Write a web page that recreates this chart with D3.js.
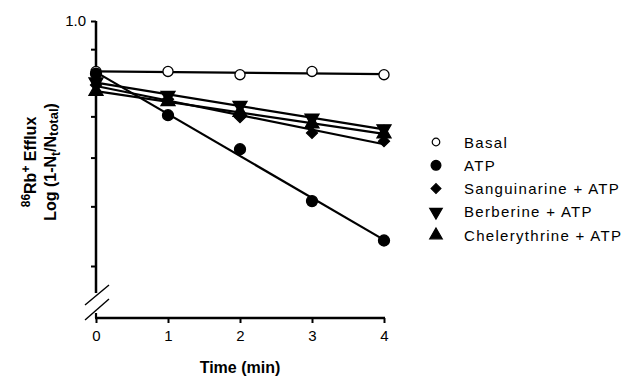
<!DOCTYPE html>
<html lang="en">
<head>
<meta charset="UTF-8">
<title>86Rb efflux</title>
<script src="https://d3js.org/d3.v7.min.js"></script>
<style>
    body { margin: 0; background: #fff; }
    svg { font-family: Arial, "Liberation Sans", sans-serif; }
</style>
</head>
<body>
<div id="chart"></div>
<script>
    const times = [0, 1, 2, 3, 4];
    const seriesNames = ["Basal", "ATP", "Sanguinarine + ATP", "Berberine + ATP", "Chelerythrine + ATP"];
    const basal = [0.828, 0.828, 0.818, 0.828, 0.818];
    const atp = [0.821, 0.703, 0.619, 0.510, 0.440];
    const sanguinarine = [0.787, 0.746, 0.698, 0.658, 0.638];
    const berberine = [0.796, 0.757, 0.729, 0.695, 0.668];
    const chelerythrine = [0.769, 0.740, 0.711, 0.681, 0.656];
    const yTicks = [1.0, 0.9, 0.8, 0.7, 0.6, 0.5, 0.4];

    const width = 630, height = 376;
    const svg = d3.select("#chart").append("svg")
        .attr("width", width)
        .attr("height", height);

    const x = d3.scaleLinear().domain([0, 4]).range([96, 384]);
    const y = d3.scaleLog().domain([0.4, 1.0]).range([266, 21]);
    const xAxisY = 318;
    const yAxisBottom = 293;

    // symbols (diamond = square turned 45deg)
    const shapes = [
        { type: d3.symbolCircle, size: 80, fill: "#fff", rot: 0 },
        { type: d3.symbolCircle, size: 95, fill: "#000", rot: 0 },
        { type: d3.symbolSquare, size: 60, fill: "#000", rot: 45 },
        { type: d3.symbolTriangle, size: 85, fill: "#000", rot: 180 },
        { type: d3.symbolTriangle, size: 85, fill: "#000", rot: 0 }
    ];
    const allSeries = [basal, atp, sanguinarine, berberine, chelerythrine];

    // y axis
    const yAxis = svg.append("g")
        .attr("transform", `translate(${x(0)},0)`)
        .call(d3.axisLeft(y).tickValues(yTicks).tickSize(5)
            .tickFormat(d => d === 1 ? "1.0" : ""));
    yAxis.select(".domain").remove();
    yAxis.selectAll(".tick line").attr("stroke", "#000").attr("stroke-width", 2);
    yAxis.selectAll(".tick text").attr("font-size", 15).attr("x", -10).attr("fill", "#000");
    yAxis.append("line")
        .attr("x1", 0).attr("x2", 0)
        .attr("y1", y(1.0)).attr("y2", yAxisBottom)
        .attr("stroke", "#000").attr("stroke-width", 2.5);

    // axis break marks
    const brk = svg.append("g").attr("stroke", "#000").attr("stroke-width", 1.4);
    brk.append("line").attr("x1", x(0) - 11).attr("y1", yAxisBottom + 12)
        .attr("x2", x(0) + 13).attr("y2", yAxisBottom - 8);
    brk.append("line").attr("x1", x(0) - 11).attr("y1", yAxisBottom + 27)
        .attr("x2", x(0) + 13).attr("y2", yAxisBottom + 6);

    // x axis
    const xAxis = svg.append("g")
        .attr("transform", `translate(0,${xAxisY})`)
        .call(d3.axisBottom(x).tickValues(times).tickSize(5).tickFormat(d3.format("d")));
    xAxis.select(".domain").remove();
    xAxis.selectAll(".tick line").attr("stroke", "#000").attr("stroke-width", 2);
    xAxis.selectAll(".tick text").attr("font-size", 15).attr("y", 12).attr("fill", "#000");
    xAxis.append("line")
        .attr("x1", x(0) - 1).attr("x2", x(4) + 1)
        .attr("y1", 0).attr("y2", 0)
        .attr("stroke", "#000").attr("stroke-width", 2.5);
    xAxis.append("line")
        .attr("x1", x(0)).attr("x2", x(0))
        .attr("y1", -5).attr("y2", 0)
        .attr("stroke", "#000").attr("stroke-width", 2.2);

    // axis titles
    svg.append("text")
        .attr("x", 240).attr("y", 373)
        .attr("text-anchor", "middle")
        .attr("font-size", 16).attr("font-weight", "bold")
        .text("Time (min)");

    const yt = svg.append("g").attr("transform", "translate(36,162) rotate(-90)")
        .attr("font-weight", "bold").attr("font-size", 16).attr("text-anchor", "middle");
    const l1 = yt.append("text").attr("x", 0).attr("y", 0);
    l1.append("tspan").attr("font-size", 12).attr("dy", -6).text("86");
    l1.append("tspan").attr("dy", 6).text("Rb");
    l1.append("tspan").attr("font-size", 12).attr("dy", -6).text("+");
    l1.append("tspan").attr("dy", 6).text(" Efflux");
    const l2 = yt.append("text").attr("x", 0).attr("y", 20);
    l2.append("tspan").text("Log (1-N");
    l2.append("tspan").attr("font-size", 12).attr("dy", 4).text("t");
    l2.append("tspan").attr("dy", -4).text("/N");
    l2.append("tspan").attr("font-size", 13).attr("dy", 2).text("total");
    l2.append("tspan").attr("dy", -2).text(")");

    // least squares fit in log space
    function fit(vals) {
        const ly = vals.map(v => Math.log10(v));
        const mx = d3.mean(times), my = d3.mean(ly);
        let num = 0, den = 0;
        times.forEach((t, i) => { num += (t - mx) * (ly[i] - my); den += (t - mx) * (t - mx); });
        const b = num / den, a = my - b * mx;
        return t => Math.pow(10, a + b * t);
    }

    const lineG = svg.append("g");
    allSeries.forEach(vals => {
        const f = fit(vals);
        lineG.append("line")
            .attr("x1", x(0)).attr("y1", y(f(0)))
            .attr("x2", x(4)).attr("y2", y(f(4)))
            .attr("stroke", "#000").attr("stroke-width", 2.2);
    });

    const markG = svg.append("g");
    allSeries.forEach((vals, si) => {
        const s = shapes[si];
        markG.selectAll(null)
            .data(vals)
            .enter().append("path")
            .attr("d", d3.symbol().type(s.type).size(s.size))
            .attr("transform", (d, i) => `translate(${x(times[i])},${y(d)}) rotate(${s.rot})`)
            .attr("fill", s.fill)
            .attr("stroke", "#000")
            .attr("stroke-width", 1.3);
    });

    // legend
    const legend = svg.append("g").attr("transform", "translate(436,142)");
    seriesNames.forEach((name, i) => {
        const s = shapes[i];
        const g = legend.append("g").attr("transform", `translate(0,${i * 23.3})`);
        g.append("path")
            .attr("d", d3.symbol().type(s.type).size(i === 0 ? 45 : s.size * 0.8))
            .attr("transform", `rotate(${s.rot})`)
            .attr("fill", s.fill)
            .attr("stroke", "#000")
            .attr("stroke-width", 1.2);
        g.append("text")
            .attr("x", 28).attr("y", 5.5)
            .attr("font-size", 15)
            .attr("letter-spacing", 1.3)
            .text(name);
    });
</script>
</body>
</html>
